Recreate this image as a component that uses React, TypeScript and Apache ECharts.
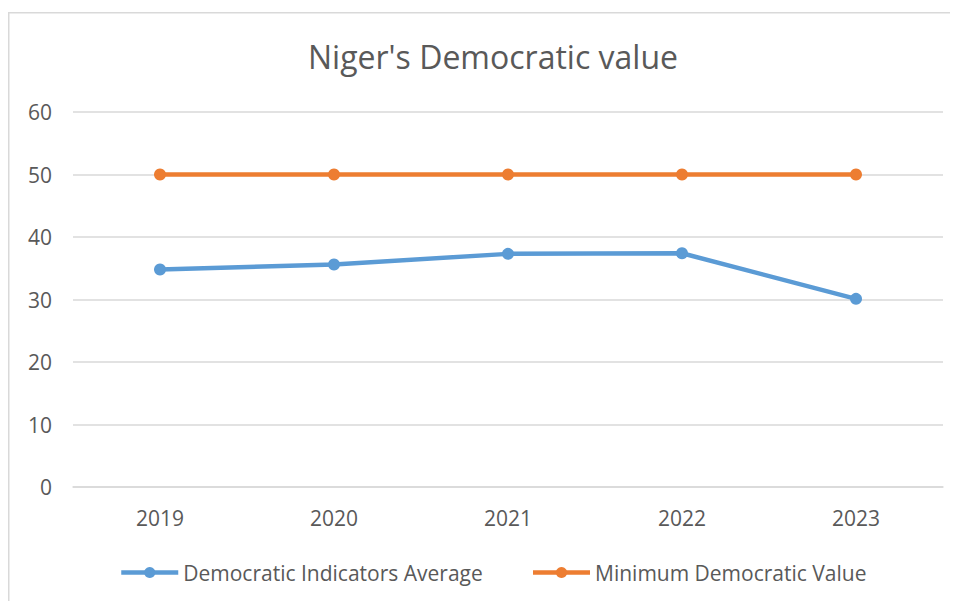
import React, { useEffect, useRef } from "react";
import * as echarts from "echarts";

const title = "Niger's Democratic value";
const years = ["2019", "2020", "2021", "2022", "2023"];
const avgName = "Democratic Indicators Average";
const avgValues = [34.8, 35.6, 37.3, 37.4, 30.1];
const minName = "Minimum Democratic Value";
const minValues = [50, 50, 50, 50, 50];

const FONT = "'Open Sans', 'Noto Sans', sans-serif";
const TXT = "#595959";

export default function App() {
  const ref = useRef<HTMLDivElement>(null);
  useEffect(() => {
    if (!ref.current) return;
    document.documentElement.style.overflow = "hidden";
    const chart = echarts.init(ref.current, undefined, { renderer: "svg" });
    chart.setOption({
      animation: false,
      backgroundColor: "#ffffff",
      textStyle: { fontFamily: FONT },
      graphic: [
        {
          type: "line",
          shape: { x1: 0.75, y1: 4, x2: 0.75, y2: 593 },
          style: { stroke: "#d9d9d9", lineWidth: 1.5 },
          silent: true,
        },
        {
          type: "line",
          shape: { x1: 0, y1: 4.75, x2: 950, y2: 4.75 },
          style: { stroke: "#d9d9d9", lineWidth: 1.5 },
          silent: true,
        },
      ],
      title: {
        text: title,
        left: 295,
        top: 27,
        textStyle: { fontFamily: FONT, fontSize: 32, fontWeight: "normal", color: TXT },
      },
      grid: { left: 65, right: 15, top: 104, bottom: 114 },
      legend: {
        top: 549,
        left: 106,
        itemWidth: 57,
        itemHeight: 14,
        itemGap: 48,
        textStyle: { fontFamily: FONT, fontSize: 21, color: TXT },
        lineStyle: { width: 4.5 },
        data: [avgName, minName],
      },
      xAxis: {
        type: "category",
        data: years,
        boundaryGap: true,
        axisLine: { lineStyle: { color: "#d9d9d9", width: 1.5 } },
        axisTick: { show: false },
        axisLabel: { fontFamily: FONT, fontSize: 21, color: TXT, margin: 20 },
      },
      yAxis: {
        type: "value",
        min: 0,
        max: 60,
        interval: 10,
        axisLine: { show: false },
        axisTick: { show: false },
        axisLabel: { fontFamily: FONT, fontSize: 21, color: TXT, margin: 21 },
        splitLine: { lineStyle: { color: "#d9d9d9", width: 1.5 } },
      },
      series: [
        {
          name: avgName,
          type: "line",
          data: avgValues,
          color: "#5b9bd5",
          lineStyle: { width: 4.5, color: "#5b9bd5" },
          symbol: "circle",
          symbolSize: 12,
          itemStyle: { color: "#5b9bd5" },
        },
        {
          name: minName,
          type: "line",
          data: minValues,
          color: "#ed7d31",
          lineStyle: { width: 4.5, color: "#ed7d31" },
          symbol: "circle",
          symbolSize: 12,
          itemStyle: { color: "#ed7d31" },
        },
      ],
    });
    return () => chart.dispose();
  }, []);
  return <div ref={ref} style={{ width: 950, height: 593 }} />;
}
